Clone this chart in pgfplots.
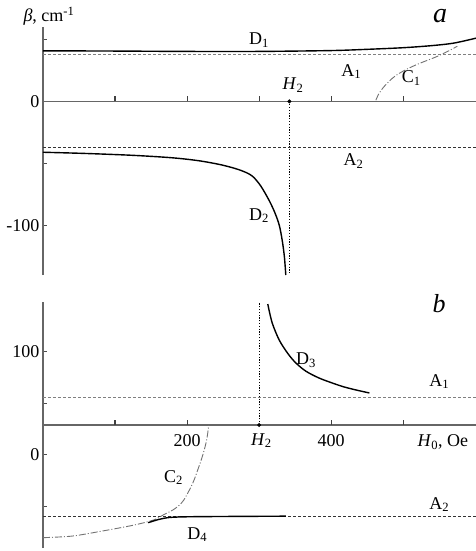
\documentclass[border=0pt]{standalone}
\usepackage{pgfplots}
\pgfplotsset{compat=1.18}
\usepackage{fontspec}
\setmainfont{Liberation Serif}
\newcommand{\fs}{\fontsize{18}{21}\selectfont}
\tikzset{Tk/.style={black!75, line width=1.1pt}}
\begin{document}
\begin{tikzpicture}
\useasboundingbox (0pt,0pt) rectangle (476pt,-551pt);
\pgfplotsset{
 mystyle/.style={scale only axis, clip=false, enlargelimits=false,
   axis y line=left,
   tick style={draw=black!70, line width=1pt}, tick align=inside,
   major tick length=4.5pt,
   every tick label/.append style={font=\fs},
   /pgf/number format/assume math mode=true,
   xmin=0, xmax=601, width=433pt},
 Dline/.style={black, line width=1.4pt, smooth},
 Aone/.style={black!50, line width=0.9pt, dash pattern=on 3pt off 2pt},
 Atwo/.style={black!80, line width=0.9pt, dash pattern=on 3pt off 2pt},
 Cline/.style={black!55, line width=0.9pt, smooth, dash pattern=on 7pt off 2pt on 1pt off 2pt},
 Hline/.style={black, line width=1.2pt, dash pattern=on 1.2pt off 1.6pt},
}
\node[font=\fs] at (49pt,-16pt) {\textit{β}, cm\textsuperscript{-1}};
% ---------------- panel a ----------------
\begin{axis}[mystyle, at={(43pt,-275pt)}, anchor=south west, height=248pt,
  ymin=-140, ymax=60, axis x line=middle,
  axis line style={-, draw=black!60, line width=1.3pt},
  xtick=\empty,
  ytick={-100,-50,0,50}, yticklabels={-100,,0,}]
\addplot[Aone] coordinates {(0,37.5) (601,37.5)};
\addplot[Atwo] coordinates {(0,-37) (601,-37)};
\addplot[Dline] coordinates {(0,40.8) (100,40.6) (200,40.3) (300,40.3) (400,41) (450,42) (500,43.3) (540,45) (570,47) (601,51)};
\addplot[Cline] coordinates {(462,1) (466,6) (472,11) (480,16) (490,21) (505,26) (522,30.5) (546,36) (564,41) (575,44.5)};
\addplot[Dline] coordinates {(0,-41) (60,-42) (125,-43.5) (180,-45.5) (218,-48) (250,-51.5) (274,-55.5) (290,-60) (302,-68) (314,-80) (322,-90) (328,-100) (332,-112) (335,-125) (337,-140)};
\addplot[Hline] coordinates {(342,0) (342,-140)};
\addplot[only marks, mark=*, mark size=1.8pt, black] coordinates {(342,0)};
\addplot[Tk, forget plot] coordinates {(100,0) (100,4)};
\addplot[Tk, forget plot] coordinates {(200,0) (200,4)};
\addplot[Tk, forget plot] coordinates {(300,0) (300,4)};
\addplot[Tk, forget plot] coordinates {(400,0) (400,4)};
\addplot[Tk, forget plot] coordinates {(500,0) (500,4)};
\node[font=\fs] at (axis cs:300,49.5) {D\textsubscript{1}};
\node[font=\fs] at (axis cs:428,24) {A\textsubscript{1}};
\node[font=\fs] at (axis cs:511,19) {C\textsubscript{1}};
\node[font=\fs] at (axis cs:347,13) {\textit{H}\textsubscript{2}};
\node[font=\fs] at (axis cs:431,-48) {A\textsubscript{2}};
\node[font=\fs] at (axis cs:300,-92) {D\textsubscript{2}};
\end{axis}
\node[font=\fontsize{28}{30}\selectfont\itshape] at (440pt,-16pt) {a};
% ---------------- panel b ----------------
\begin{axis}[mystyle, at={(43pt,-548pt)}, anchor=south west, height=246pt,
  ymin=-90, ymax=148, axis x line=none,
  axis line style={-, draw=black!60, line width=1.3pt},
  ytick={-50,0,50,100}, yticklabels={,0,,100}]
\addplot[black!60, line width=1.3pt] coordinates {(0,29) (601,29)};
\addplot[Aone] coordinates {(0,56) (601,56)};
\addplot[Atwo] coordinates {(0,-59) (601,-59)};
\addplot[Dline] coordinates {(312,146) (318,128) (328,111) (340,98) (351,89) (365,81) (383,74.5) (400,70) (417,66) (435,62.8) (453,60)};
\addplot[Cline] coordinates {(0,-80) (40,-78.5) (79,-74) (125,-68) (153,-63) (167,-58) (183,-52) (195,-44) (208,-27) (216,-12) (220,-4) (225,8) (228,18) (230,29)};
\addplot[Dline] coordinates {(146,-65.5) (160,-62.5) (175,-60.5) (200,-59.8) (250,-59.5) (337,-59.2)};
\addplot[black, line width=1pt, dash pattern=on 1.2pt off 1.6pt] coordinates {(300,29) (300,148)};
\addplot[only marks, mark=*, mark size=1.8pt, black] coordinates {(300,29)};
\addplot[Tk, forget plot] coordinates {(100,29) (100,33.5)};
\addplot[Tk, forget plot] coordinates {(200,29) (200,33.5)};
\addplot[Tk, forget plot] coordinates {(400,29) (400,33.5)};
\addplot[Tk, forget plot] coordinates {(500,29) (500,33.5)};
\node[font=\fs] at (axis cs:365,92) {D\textsubscript{3}};
\node[font=\fs] at (axis cs:550,71) {A\textsubscript{1}};
\node[font=\fs] at (axis cs:200,14) {200};
\node[font=\fs] at (axis cs:303,14) {\textit{H}\textsubscript{2}};
\node[font=\fs] at (axis cs:400,14) {400};
\node[font=\fs] at (axis cs:555,12.5) {\textit{H}\textsubscript{0}, Oe};
\node[font=\fs] at (axis cs:181,-22) {C\textsubscript{2}};
\node[font=\fs] at (axis cs:214,-77) {D\textsubscript{4}};
\node[font=\fs] at (axis cs:550,-48) {A\textsubscript{2}};
\end{axis}
\node[font=\fontsize{26}{28}\selectfont\itshape] at (439pt,-304pt) {b};
\end{tikzpicture}
\end{document}
